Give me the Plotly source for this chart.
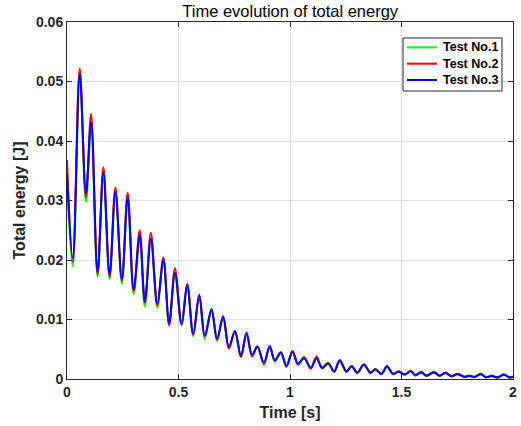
import plotly.graph_objects as go

# Time samples (s) at the turning points of the oscillation
time_s = [0.000, 0.026, 0.057, 0.085, 0.108, 0.137, 0.163, 0.191, 0.217, 0.246,
          0.272, 0.299, 0.326, 0.349, 0.376, 0.405, 0.432, 0.458, 0.484, 0.514,
          0.539, 0.566, 0.593, 0.618, 0.648, 0.673, 0.700, 0.726, 0.753, 0.780,
          0.805, 0.830, 0.854, 0.883, 0.909, 0.932, 0.959, 0.984, 1.011, 1.036,
          1.063, 1.093, 1.119, 1.144, 1.171, 1.198, 1.223, 1.253, 1.276, 1.302,
          1.331, 1.361, 1.383, 1.410, 1.435, 1.462, 1.487, 1.514, 1.541, 1.562,
          1.589, 1.612, 1.646, 1.671, 1.697, 1.724, 1.750, 1.783, 1.803, 1.828,
          1.855, 1.880, 1.905, 1.930, 1.959, 1.985, 2.000]

# Total energy (J) for each test
energy_test1 = [0.0330, 0.0189, 0.0505, 0.0298, 0.0420, 0.0172, 0.0338, 0.0168, 0.0308, 0.0160,
                0.0300, 0.0143, 0.0238, 0.0122, 0.0232, 0.0120, 0.0198, 0.0092, 0.0175, 0.0090,
                0.0155, 0.0072, 0.0138, 0.0067, 0.0114, 0.0064, 0.0103, 0.0052, 0.0079, 0.0037,
                0.0075, 0.0039, 0.0055, 0.0024, 0.0053, 0.0030, 0.0045, 0.0020, 0.0046, 0.0025,
                0.0036, 0.0017, 0.0034, 0.0018, 0.0027, 0.0012, 0.0030, 0.0012, 0.0022, 0.0010,
                0.0023, 0.0010, 0.0017, 0.0008, 0.0020, 0.0008, 0.0013, 0.0007, 0.0013, 0.0006,
                0.0011, 0.0005, 0.0011, 0.0005, 0.0010, 0.0004, 0.0009, 0.0003, 0.0005, 0.0003,
                0.0008, 0.0003, 0.0005, 0.0002, 0.0007, 0.0002, 0.0004]

energy_test2 = [0.0368, 0.0196, 0.0522, 0.0305, 0.0446, 0.0176, 0.0356, 0.0172, 0.0322, 0.0165,
                0.0313, 0.0148, 0.0250, 0.0128, 0.0246, 0.0124, 0.0204, 0.0090, 0.0186, 0.0091,
                0.0160, 0.0075, 0.0142, 0.0072, 0.0118, 0.0066, 0.0106, 0.0051, 0.0081, 0.0037,
                0.0078, 0.0038, 0.0055, 0.0025, 0.0056, 0.0030, 0.0045, 0.0021, 0.0047, 0.0024,
                0.0037, 0.0018, 0.0038, 0.0018, 0.0027, 0.0012, 0.0032, 0.0012, 0.0022, 0.0010,
                0.0025, 0.0010, 0.0017, 0.0008, 0.0022, 0.0008, 0.0013, 0.0007, 0.0014, 0.0006,
                0.0012, 0.0005, 0.0012, 0.0005, 0.0011, 0.0004, 0.0009, 0.0003, 0.0006, 0.0003,
                0.0009, 0.0003, 0.0006, 0.0002, 0.0008, 0.0002, 0.0004]

energy_test3 = [0.0346, 0.0203, 0.0514, 0.0312, 0.0432, 0.0180, 0.0348, 0.0175, 0.0315, 0.0168,
                0.0306, 0.0150, 0.0242, 0.0130, 0.0236, 0.0126, 0.0201, 0.0094, 0.0178, 0.0093,
                0.0158, 0.0076, 0.0140, 0.0073, 0.0116, 0.0068, 0.0104, 0.0054, 0.0080, 0.0039,
                0.0076, 0.0041, 0.0054, 0.0028, 0.0054, 0.0032, 0.0044, 0.0022, 0.0046, 0.0026,
                0.0035, 0.0019, 0.0035, 0.0019, 0.0026, 0.0013, 0.0031, 0.0013, 0.0021, 0.0011,
                0.0024, 0.0011, 0.0016, 0.0009, 0.0021, 0.0009, 0.0012, 0.0008, 0.0013, 0.0007,
                0.0011, 0.0006, 0.0011, 0.0006, 0.0010, 0.0005, 0.0008, 0.0004, 0.0005, 0.0004,
                0.0008, 0.0003, 0.0005, 0.0003, 0.0007, 0.0003, 0.0004]

series_names = ['Test No.1', 'Test No.2', 'Test No.3']
series_colors = ['#00ff00', '#ff0000', '#0000ff']
x_ticks = [0, 0.5, 1, 1.5, 2]
x_tick_labels = ['0', '0.5', '1', '1.5', '2']
y_ticks = [0, 0.01, 0.02, 0.03, 0.04, 0.05, 0.06]
y_tick_labels = ['0', '0.01', '0.02', '0.03', '0.04', '0.05', '0.06']

FONT = 'Liberation Sans, Arial, sans-serif'

fig = go.Figure()
for name, color, values in zip(series_names, series_colors,
                               [energy_test1, energy_test2, energy_test3]):
    fig.add_trace(go.Scatter(x=time_s, y=values, mode='lines', name=name, showlegend=False,
                             line=dict(color=color, width=2, shape='spline', smoothing=1)))

# MATLAB-style legend box in the upper right corner (paper coordinates)
fig.add_shape(type='rect', xref='paper', yref='paper',
              x0=0.7534, x1=0.9753, y0=0.8067, y1=0.9552,
              line=dict(color='#262626', width=1), fillcolor='white', layer='above')
for i, (name, color) in enumerate(zip(series_names, series_colors)):
    yy = 0.9291 - i * 0.0458
    fig.add_shape(type='line', xref='paper', yref='paper',
                  x0=0.7623, x1=0.8296, y0=yy, y1=yy,
                  line=dict(color=color, width=2), layer='above')
    fig.add_annotation(x=0.8390, y=yy, xref='paper', yref='paper', text=name,
                       showarrow=False, xanchor='left', yanchor='middle',
                       font=dict(family=FONT, size=12.5, color='black', weight='bold'))

axis_common = dict(
    showline=True, linecolor='#262626', linewidth=1, mirror='ticks',
    ticks='inside', ticklen=5, tickcolor='#262626',
    showgrid=True, gridcolor='#dfdfdf', gridwidth=1, zeroline=False,
    automargin=False, ticklabeloverflow='allow',
    tickfont=dict(family=FONT, size=14, color='#262626', weight='bold'),
)

fig.update_xaxes(range=[0, 2], tickvals=x_ticks, ticktext=x_tick_labels,
                 title=dict(text='Time [s]', standoff=8,
                            font=dict(family=FONT, size=16, color='#262626', weight='bold')),
                 **axis_common)
fig.update_yaxes(range=[0, 0.06], tickvals=y_ticks, ticktext=y_tick_labels,
                 title=dict(text='Total energy [J]', standoff=6,
                            font=dict(family=FONT, size=16, color='#262626', weight='bold')),
                 **axis_common)

fig.update_layout(
    width=521, height=426,
    margin=dict(l=67, r=8, t=22, b=47),
    paper_bgcolor='white', plot_bgcolor='white',
    title=dict(text='Time evolution of total energy', x=0.557, xanchor='center',
               y=0.988, yanchor='top',
               font=dict(family=FONT, size=16.5, color='black')),
    showlegend=False,
)

fig.write_html("out.html", config={'displayModeBar': False},
               post_script="document.body.style.margin='0';")
